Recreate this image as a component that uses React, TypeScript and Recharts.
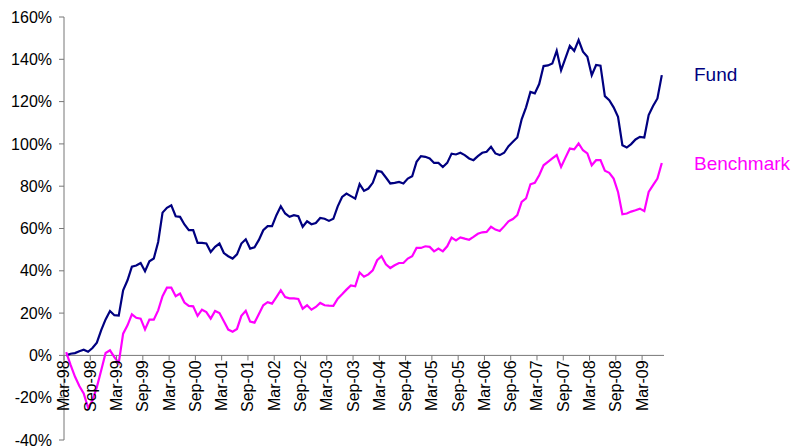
import React from 'react';
import { LineChart, Line, XAxis, YAxis, ReferenceLine, Legend } from 'recharts';

// Monthly cumulative returns (%), Mar-98 .. Jul-09
const fund = [
  0, 0.8, 1.1, 2, 2.7, 1.7, 3.5, 6, 12, 17,
  21, 19, 18.8, 30.8, 35.5, 42, 42.5, 43.7, 39.8, 44.5,
  45.8, 53.6, 67.5, 69.8, 71, 65.8, 65.5, 61.9, 59.2, 59.2,
  53.2, 53.2, 52.9, 48.9, 51.3, 52.9, 48.4, 46.9, 45.8, 47.8,
  52.9, 54.9, 50.5, 51.1, 54.6, 59.2, 61.1, 61.1, 66.3, 70.5,
  67.1, 65.5, 66.3, 65.8, 60.8, 63.4, 62, 62.6, 65, 64.6,
  63.6, 64.6, 70.5, 74.9, 76.5, 75.3, 74.1, 81, 77.8, 78.9,
  81.6, 87.3, 86.8, 84.1, 81.3, 81.6, 82, 81.3, 83.6, 84.7,
  91.5, 94.2, 93.9, 93.1, 91, 91, 89.1, 91, 95.4, 95,
  95.8, 94.7, 93.1, 92.3, 94.2, 95.8, 96.3, 98.6, 95.5, 94.7,
  95.8, 98.9, 101, 103, 111.6, 117.3, 124.6, 123.9, 128.3, 136.8,
  137.1, 138, 144, 134.8, 140.5, 146.3, 144, 149.1, 143.6, 141.2,
  132.5, 137.3, 137, 122.6, 120.7, 117.3, 112.8, 99.4, 98.3, 99.9,
  102.1, 103.3, 103, 113.6, 117.9, 121.5, 132.5,
];

const benchmark = [
  1.5, -4.5, -10, -14.5, -18, -24.8, -21.3, -15, -7, 1.1,
  2.4, -0.8, -3.6, 10.3, 14.2, 19.4, 17.8, 17.4, 12.3, 16.9,
  16.9, 21.3, 28, 32, 32, 28, 29.2, 25, 23.4, 23.2,
  18.7, 21.6, 20.5, 17.4, 21, 20, 16.1, 12.2, 11.2, 12.5,
  18.7, 21.1, 16, 15.5, 19.6, 23.7, 25.2, 24.5, 27.6, 30.8,
  27.6, 27, 27, 26.7, 22.1, 23.7, 21.6, 22.9, 24.8, 23.7,
  23.5, 23.4, 26.8, 28.9, 31.1, 33.1, 32.7, 39.2, 37.2, 38.3,
  40.2, 45, 46.9, 43.1, 41.3, 42.6, 43.7, 43.7, 45.8, 46.9,
  50.8, 50.8, 51.6, 51.3, 49.2, 50.5, 49.2, 51.6, 55.7, 54.4,
  55.8, 55.2, 54.7, 56, 57.5, 58.2, 58.4, 60.8, 59.5, 58.8,
  61, 63.4, 64.5, 66.3, 72.6, 74.2, 80.9, 81.6, 85.2, 89.9,
  91.5, 93.1, 94.7, 89.1, 93.5, 97.8, 97.4, 100.2, 97, 95.5,
  89.9, 92.3, 92.3, 87.3, 86.3, 83.6, 77.3, 66.7, 67.1, 68,
  68.6, 69.4, 68.2, 77.3, 80.5, 83.6, 91,
];

const seriesNames = ['Fund', 'Benchmark'];
const xTickLabels = [
  'Mar-98', 'Sep-98', 'Mar-99', 'Sep-99', 'Mar-00', 'Sep-00', 'Mar-01', 'Sep-01',
  'Mar-02', 'Sep-02', 'Mar-03', 'Sep-03', 'Mar-04', 'Sep-04', 'Mar-05', 'Sep-05',
  'Mar-06', 'Sep-06', 'Mar-07', 'Sep-07', 'Mar-08', 'Sep-08', 'Mar-09',
];
const yTicks = [-40, -20, 0, 20, 40, 60, 80, 100, 120, 140, 160];

const W = 794;
const H = 447;
const X_AXIS_H = 7;
const M = { top: 17, right: 130, bottom: 0, left: 0 };
const Y_MIN = -40;
const Y_MAX = 160;
const PLOT_H = H - M.top - M.bottom - X_AXIS_H;
const ZERO_Y = M.top + (PLOT_H * (Y_MAX - 0)) / (Y_MAX - Y_MIN);
const FONT = '"Liberation Sans", Arial, Helvetica, sans-serif';
const AXIS = '#777777';

const data = fund.map((f, i) => ({ i, fund: f, benchmark: benchmark[i] }));
const xTicks = xTickLabels.map((_, k) => k * 6 - 0.5);

function XTick(props: any) {
  const { x, payload } = props;
  const k = Math.round((payload.value + 0.5) / 6);
  const ty = ZERO_Y + 5;
  return (
    <g>
      <line x1={x} x2={x} y1={ZERO_Y} y2={ZERO_Y + 5} stroke={AXIS} strokeWidth={1} />
      <text
        x={x}
        y={ty}
        transform={`rotate(-90 ${x} ${ty})`}
        textAnchor="end"
        dominantBaseline="central"
        fontSize={16}
        fontFamily={FONT}
        fill="#000"
      >
        {xTickLabels[k]}
      </text>
    </g>
  );
}

function LegendContent(props: any) {
  const { payload } = props;
  const items = [...(payload || [])].sort(
    (a: any, b: any) => seriesNames.indexOf(a.value) - seriesNames.indexOf(b.value)
  );
  return (
    <div style={{ fontFamily: FONT }}>
      {items.map((e: any) => (
        <div key={e.value} style={{ height: 89, lineHeight: '22px', fontSize: 19, color: e.color }}>
          {e.value}
        </div>
      ))}
    </div>
  );
}

export default function App() {
  return (
    <div style={{ position: 'absolute', left: 0, top: 0, width: W, height: H, background: '#fff', fontFamily: FONT }}>
      <LineChart width={W} height={H} data={data} margin={M} style={{ fontFamily: FONT }}>
        <XAxis
          type="number"
          dataKey="i"
          domain={[-0.5, 136.5]}
          ticks={xTicks}
          interval={0}
          height={X_AXIS_H}
          axisLine={false}
          tickLine={false}
          tick={<XTick />}
        />
        <YAxis
          type="number"
          domain={[Y_MIN, Y_MAX]}
          ticks={yTicks}
          interval={0}
          width={64}
          tickSize={5}
          tickMargin={7}
          axisLine={{ stroke: AXIS }}
          tickLine={{ stroke: AXIS }}
          tick={{ fontSize: 16, fill: '#000', fontFamily: FONT }}
          tickFormatter={(v: number) => `${v}%`}
        />
        <ReferenceLine y={0} stroke={AXIS} strokeWidth={1} />
        <Line
          name={seriesNames[0]}
          dataKey="fund"
          type="linear"
          stroke="#000080"
          strokeWidth={2.2}
          dot={false}
          isAnimationActive={false}
        />
        <Line
          name={seriesNames[1]}
          dataKey="benchmark"
          type="linear"
          stroke="#FF00FF"
          strokeWidth={2.2}
          dot={false}
          isAnimationActive={false}
        />
        <Legend
          layout="vertical"
          align="center"
          verticalAlign="middle"
          wrapperStyle={{ left: 694, top: 64, width: 100, height: 'auto' }}
          content={<LegendContent />}
        />
      </LineChart>
    </div>
  );
}
